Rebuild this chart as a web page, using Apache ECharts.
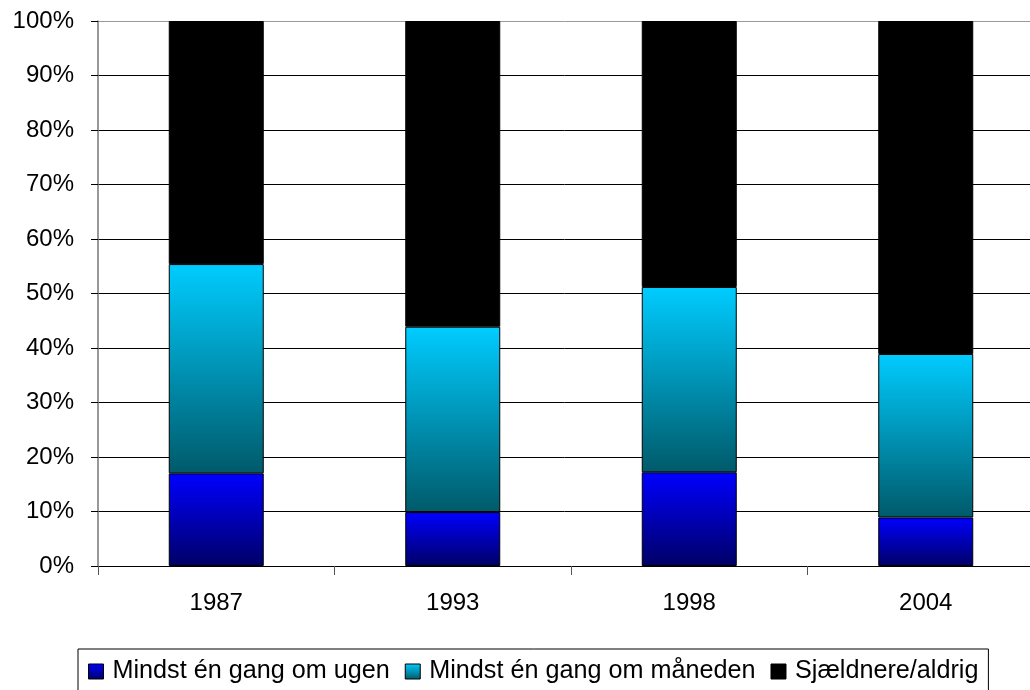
<!DOCTYPE html>
<html>
<head>
<meta charset="utf-8">
<script src="https://cdn.jsdelivr.net/npm/echarts@6/dist/echarts.min.js"></script>
<style>html,body{margin:0;padding:0;background:#fff}#c{width:1030px;height:690px}</style>
</head>
<body>
<div id="c"></div>
<script>
const categories = ['1987', '1993', '1998', '2004'];
const weekly = [17.0, 9.9, 17.2, 8.9];
const monthly = [38.4, 34.0, 34.0, 30.0];
const rarely = [44.6, 56.1, 48.8, 61.1];
const seriesNames = ['Mindst én gang om ugen', 'Mindst én gang om måneden', 'Sjældnere/aldrig'];

const chart = echarts.init(document.getElementById('c'), null, {renderer: 'canvas'});
const grad = (a, b) => new echarts.graphic.LinearGradient(0, 0, 0, 1, [{offset: 0, color: a}, {offset: 1, color: b}]);
const font = 'Arial, "Liberation Sans", sans-serif';
const mk = (name, data, color) => ({
  name, type: 'bar', stack: 's', data, barWidth: 95,
  itemStyle: {color, borderColor: '#000', borderWidth: 1},
  emphasis: {disabled: true}
});
chart.setOption({
  animation: false,
  textStyle: {fontFamily: font},
  grid: {left: 98, right: -14, top: 21, bottom: 124, outerBoundsMode: 'none', containLabel: false},
  legend: {
    left: 78, top: 649, padding: [10, 10, 14, 10],
    borderColor: '#000', borderWidth: 1,
    itemWidth: 15, itemHeight: 15, itemGap: 15,
    icon: 'rect',
    itemStyle: {borderColor: '#000', borderWidth: 1},
    textStyle: {fontSize: 25.2, color: '#000', fontFamily: font, padding: [0, 0, 0, 4]},
    data: seriesNames
  },
  xAxis: {
    type: 'category', data: categories,
    axisLine: {lineStyle: {color: '#000', width: 1}},
    axisTick: {show: true, length: 9, lineStyle: {color: '#555'}},
    axisLabel: {fontSize: 24, color: '#000', margin: 25, fontFamily: font}
  },
  yAxis: {
    type: 'value', min: 0, max: 100, interval: 10,
    axisLine: {show: true, lineStyle: {color: '#777', width: 1.5}},
    axisTick: {show: true, length: 7, lineStyle: {color: '#000'}},
    axisLabel: {fontSize: 24, color: '#000', margin: 24, fontFamily: font, formatter: '{value}%'},
    splitLine: {show: true, lineStyle: {color: ['#000', '#000', '#000', '#000', '#000', '#000', '#000', '#000', '#000', '#000', '#999'], width: 1}}
  },
  series: [
    mk(seriesNames[0], weekly, grad('#0000ff', '#000066')),
    mk(seriesNames[1], monthly, grad('#00ccff', '#005a6a')),
    mk(seriesNames[2], rarely, '#000000')
  ]
});
</script>
</body>
</html>
